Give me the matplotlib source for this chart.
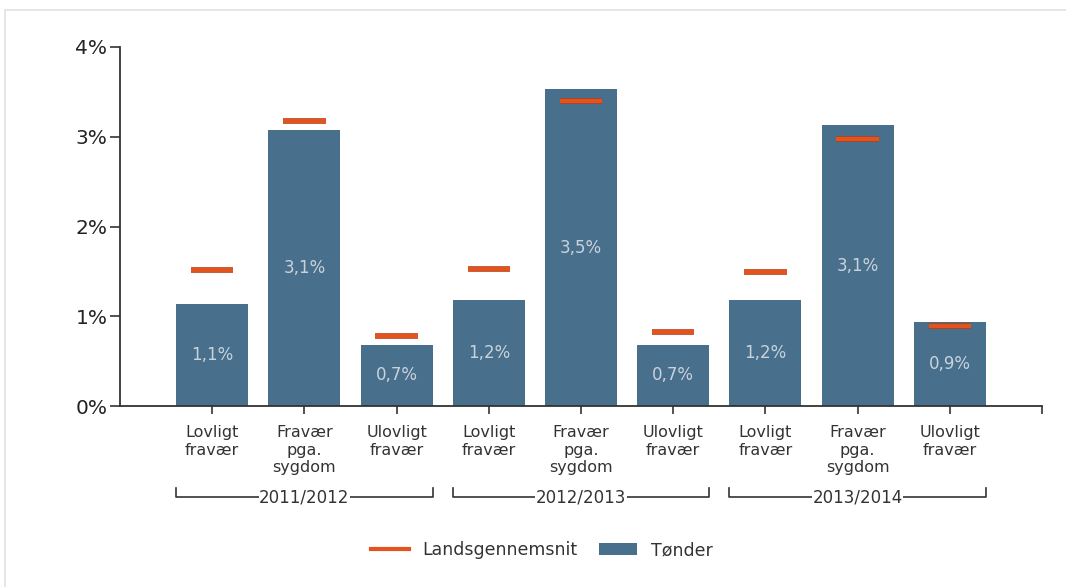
import matplotlib
matplotlib.use("Agg")
import matplotlib.pyplot as plt
import matplotlib.transforms as mtransforms
import matplotlib.patheffects as pe
from matplotlib.lines import Line2D
from matplotlib.patches import Patch, Rectangle

plt.rcParams["font.family"] = ["DejaVu Sans"]

categories = ["Lovligt\nfravær", "Fravær\npga.\nsygdom", "Ulovligt\nfravær"] * 3
years = ["2011/2012", "2012/2013", "2013/2014"]
tonder = [1.14, 3.08, 0.68, 1.18, 3.53, 0.68, 1.18, 3.13, 0.94]
tonder_labels = ["1,1%", "3,1%", "0,7%", "1,2%", "3,5%", "0,7%", "1,2%", "3,1%", "0,9%"]
landsgennemsnit = [1.51, 3.17, 0.78, 1.53, 3.40, 0.82, 1.49, 2.97, 0.89]

bar_color = "#486f8c"
avg_color = "#e2531d"
W, H = 1066, 587

fig = plt.figure(figsize=(W / 100, H / 100), dpi=100)
fig.patches.append(Rectangle((5 / W, -0.1), 1.2, 1 - 10 / H + 0.1, transform=fig.transFigure,
                             fill=False, edgecolor="#e2e2e2", linewidth=1.2))
ax = fig.add_axes([120 / W, 1 - 406 / H, (1042 - 120) / W, (406 - 47) / H])

x = list(range(1, len(tonder) + 1))
ax.bar(x, tonder, width=0.78, color=bar_color, zorder=2)
for xi, v, lab in zip(x, tonder, tonder_labels):
    ax.text(xi, v / 2, lab, ha="center", va="center", color="#c9d3dc", fontsize=12, zorder=3)
for xi, v in zip(x, landsgennemsnit):
    ax.plot([xi - 0.23, xi + 0.23], [v, v], color=avg_color, linewidth=3.0,
            solid_capstyle="butt", zorder=4,
            path_effects=[pe.withStroke(linewidth=4.0, foreground="#b03a14"), pe.Normal()])

ax.set_xlim(0, 10)
ax.set_ylim(0, 4)
ax.set_yticks([0, 1, 2, 3, 4])
ax.set_yticklabels(["0%", "1%", "2%", "3%", "4%"], fontsize=14.5, color="#222222")
ax.set_xticks(x + [10])
ax.set_xticklabels(categories + [""], fontsize=11.5, color="#333333", linespacing=1.2, va="top")
ax.tick_params(axis="y", length=7, width=1.2, color="#333333", pad=2)
ax.tick_params(axis="x", length=6, width=1.2, color="#333333", pad=8)
for s in ["top", "right"]:
    ax.spines[s].set_visible(False)
for s in ["left", "bottom"]:
    ax.spines[s].set_color("#333333")
    ax.spines[s].set_linewidth(1.3)

# group brackets below category labels
trans = mtransforms.blended_transform_factory(ax.transData, ax.transAxes)
yb = -(497 - 406) / (406 - 47)
yt = -(488 - 406) / (406 - 47)
for g, year in enumerate(years):
    x0 = 3 * g + 1 - 0.39
    x1 = 3 * g + 3 + 0.39
    ax.plot([x0, x0, x1, x1], [yt, yb, yb, yt], transform=trans, color="#333333",
            linewidth=1.2, clip_on=False)
    ax.text((x0 + x1) / 2, yb, year, transform=trans, ha="center", va="center",
            fontsize=12, color="#333333",
            bbox=dict(facecolor="white", edgecolor="none", pad=0.5))

handles = [Line2D([0], [0], color=avg_color, linewidth=3),
           Patch(facecolor=bar_color)]
fig.legend(handles, ["Landsgennemsnit", "Tønder"], loc="center", bbox_to_anchor=(0.508, 1 - 550 / H),
           ncol=2, frameon=False, fontsize=12.5, handlelength=2.2, columnspacing=1.2,
           labelcolor="#333333")

fig.savefig("out.png", dpi=100)
